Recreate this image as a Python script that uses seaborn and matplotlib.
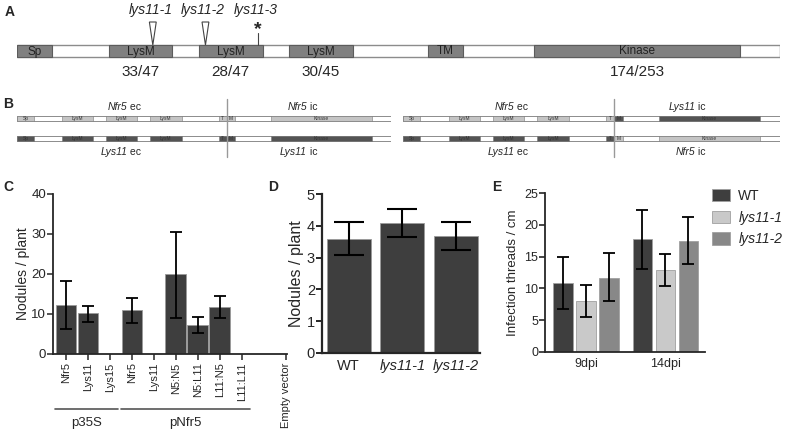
import pandas as pd
import matplotlib
matplotlib.use("Agg")
import matplotlib.pyplot as plt
from matplotlib.patches import Rectangle, Polygon
import seaborn as sns

# ---- panel A / B : domain architecture (positions in % of protein length)
domain_names = ["Sp", "LysM", "LysM", "LysM", "TM", "Kinase"]
domain_start = [0.0, 12.1, 23.8, 35.6, 53.9, 67.8]
domain_end = [4.6, 20.3, 32.2, 44.0, 58.4, 94.8]
domain_identity = ["", "33/47", "28/47", "30/45", "", "174/253"]
mutant_names = ["lys11-1", "lys11-2", "lys11-3"]
mutant_pos = [17.8, 24.7, 31.6]
mutant_kind = ["insertion", "insertion", "stop"]
split_pos = 56.1

# chimeras: (ectodomain, intracellular) for top and bottom rows
chimeras_left = [("Nfr5", "Nfr5"), ("Lys11", "Lys11")]
chimeras_right = [("Nfr5", "Lys11"), ("Lys11", "Nfr5")]

# ---- panel C
c_labels = ["Nfr5", "Lys11", "Lys15", "Nfr5", "Lys11", "N5:N5", "N5:L11",
            "L11:N5", "L11:L11", "", "Empty vector"]
c_promoter = ["p35S", "p35S", "p35S", "pNfr5", "pNfr5", "pNfr5", "pNfr5",
              "pNfr5", "pNfr5", "", ""]
c_mean = [12.3, 10.2, 0, 11.0, 0, 20.0, 7.3, 11.8, 0, None, 0]
c_low = [6.3, 8.1, 0, 7.8, 0, 9.0, 5.3, 9.0, 0, None, 0]
c_high = [18.2, 12.0, 0, 14.1, 0, 30.6, 9.2, 14.4, 0, None, 0]

# ---- panel D
d_geno = ["WT", "lys11-1", "lys11-2"]
d_mean = [3.6, 4.1, 3.67]
d_low = [3.08, 3.64, 3.25]
d_high = [4.13, 4.53, 4.11]

# ---- panel E
e_time = ["9dpi", "14dpi"]
e_geno = ["WT", "lys11-1", "lys11-2"]
e_mean = {"9dpi": [10.9, 8.0, 11.7], "14dpi": [17.7, 12.9, 17.5]}
e_low = {"9dpi": [6.7, 5.5, 8.0], "14dpi": [13.1, 10.3, 13.9]}
e_high = {"9dpi": [15.0, 10.5, 15.6], "14dpi": [22.4, 15.4, 21.2]}

dark = "#3e3e3e"
e_palette = {"WT": "#3e3e3e", "lys11-1": "#c9c9c9", "lys11-2": "#888888"}
gene_col = {"Nfr5": "#c4c4c4", "Lys11": "#545454"}

sns.set_theme(style="ticks")
plt.rcParams["font.family"] = ["Liberation Sans", "DejaVu Sans"]

W, H = 787, 434
fig = plt.figure(figsize=(W / 100, H / 100), dpi=100)


def px_axes(x0, y0, x1, y1):
    return fig.add_axes([x0 / W, 1 - y1 / H, (x1 - x0) / W, (y1 - y0) / H])


# ================= A
axA = px_axes(17, 0, 780, 90)
axA.set_xlim(0, 100)
axA.set_ylim(90, 0)
axA.axis("off")
top, hgt = 45, 12
axA.add_patch(Rectangle((0, top), 100, hgt, facecolor="white", edgecolor="#8c8c8c", lw=1))
for name, s, e, ident in zip(domain_names, domain_start, domain_end, domain_identity):
    axA.add_patch(Rectangle((s, top), e - s, hgt, facecolor="#808080", edgecolor="#5c5c5c", lw=0.8))
    axA.text((s + e) / 2, top + hgt / 2 + 0.5, name, ha="center", va="center", fontsize=8.5, color="#222222")
    if ident:
        axA.text((s + e) / 2, 72, ident, ha="center", va="center", fontsize=11)
for name, pos, kind in zip(mutant_names, mutant_pos, mutant_kind):
    if kind == "insertion":
        axA.add_patch(Polygon([(pos - 0.45, 22), (pos + 0.45, 22), (pos, top)], closed=True,
                              facecolor="white", edgecolor="#444444", lw=0.8))
    else:
        axA.plot([pos, pos], [33, top], color="#444444", lw=0.8)
        axA.text(pos, 30, "*", ha="center", va="center", fontsize=14, fontweight="bold")
    axA.text(pos - 0.3, 10, name, ha="center", va="center", fontsize=10, style="italic")


# ================= B
def gene_label(ax, x, y, gene, part):
    # italic gene name followed by upright "ec"/"ic"
    t = ax.text(x + 1.5, y, gene, ha="right", va="center", fontsize=7.5, style="italic")
    ax.annotate(" " + part, xy=(1, 0.5), xycoords=t, ha="left", va="center", fontsize=7.5)


def draw_chimeras(ax, rows):
    ax.set_xlim(0, 100)
    ax.set_ylim(160, 95)
    ax.axis("off")
    for (ec, ic), yc in zip(rows, [118, 138]):
        ax.add_patch(Rectangle((0, yc - 2.5), 100, 5, facecolor="white", edgecolor="#8c8c8c", lw=0.7))
        for name, s, e in zip(domain_names, domain_start, domain_end):
            if name == "TM":
                parts = [("T", s, split_pos, gene_col[ec]), ("M", split_pos, e, gene_col[ic])]
            elif name == "Kinase":
                parts = [(name, s, e, gene_col[ic])]
            else:
                parts = [(name, s, e, gene_col[ec])]
            for lab, a, b, col in parts:
                ax.add_patch(Rectangle((a, yc - 2.5), b - a, 5, facecolor=col, edgecolor="#777777", lw=0.4))
                ax.text((a + b) / 2, yc + 0.2, lab, ha="center", va="center", fontsize=3.5, color="#333333")
    ax.plot([split_pos, split_pos], [99, 157], color="#999999", lw=1)
    (ec1, ic1), (ec2, ic2) = rows
    gene_label(ax, 28, 107, ec1, "ec")
    gene_label(ax, 76, 107, ic1, "ic")
    gene_label(ax, 28, 152, ec2, "ec")
    gene_label(ax, 76, 152, ic2, "ic")


draw_chimeras(px_axes(17, 95, 391, 160), chimeras_left)
draw_chimeras(px_axes(403, 95, 780, 160), chimeras_right)

# ================= C
axC = px_axes(53, 194, 287, 354)
dfC = pd.DataFrame({"construct": [f"{p}_{l}_{i}" for i, (p, l) in enumerate(zip(c_promoter, c_labels))],
                    "nodules": c_mean})
sns.barplot(data=dfC, x="construct", y="nodules", color=dark, saturation=1, width=0.95,
            edgecolor="#9a9a9a", linewidth=0.6, errorbar=None, ax=axC)
for x, m, lo, hi in zip(range(len(c_labels)), c_mean, c_low, c_high):
    if m:
        axC.errorbar(x, m, yerr=[[m - lo], [hi - m]], color="black", lw=1.3, capsize=4.5, capthick=1.3)
tick_idx = [i for i, l in enumerate(c_labels) if l]
axC.set_xticks(tick_idx)
axC.set_xticklabels([c_labels[i] for i in tick_idx], rotation=90, fontsize=8)
axC.set_xlim(-0.59, 10.05)
axC.set_ylim(0, 40)
axC.set_yticks([0, 10, 20, 30, 40])
axC.tick_params(axis="y", labelsize=9.5, width=1.1, length=4, pad=1)
axC.tick_params(axis="x", width=1.1, length=4, pad=2)
axC.set_xlabel("")
axC.set_ylabel("Nodules / plant", fontsize=10, labelpad=1)
sns.despine(ax=axC)
for sp in ["left", "bottom"]:
    axC.spines[sp].set_linewidth(1.3)
for prom in ["p35S", "pNfr5"]:
    idx = [i for i, p in enumerate(c_promoter) if p == prom]
    x0, x1 = idx[0] - 0.5, idx[-1] + 0.35
    axC.plot([x0, x1], [-0.345, -0.345], color="#555555", lw=1.2,
             transform=axC.get_xaxis_transform(), clip_on=False)
    axC.text((x0 + x1) / 2, -0.43, prom, ha="center", va="center", fontsize=9.5,
             transform=axC.get_xaxis_transform())

# ================= D
axD = px_axes(322, 194, 480, 353)
dfD = pd.DataFrame({"genotype": d_geno, "nodules": d_mean})
sns.barplot(data=dfD, x="genotype", y="nodules", color=dark, saturation=1, width=0.82,
            edgecolor="#9a9a9a", linewidth=0.6, errorbar=None, ax=axD)
axD.errorbar(range(len(d_geno)), d_mean,
             yerr=[[m - lo for m, lo in zip(d_mean, d_low)], [hi - m for m, hi in zip(d_mean, d_high)]],
             fmt="none", ecolor="black", elinewidth=1.5, capsize=11, capthick=1.5)
axD.set_xlim(-0.5, 2.45)
axD.set_ylim(0, 5)
axD.tick_params(axis="y", labelsize=10.5, width=1.4, length=4, pad=1)
axD.tick_params(axis="x", labelsize=10.5, length=0, pad=4)
for lab in axD.get_xticklabels():
    if lab.get_text() != "WT":
        lab.set_style("italic")
axD.set_xlabel("")
axD.set_ylabel("Nodules / plant", fontsize=11.5, labelpad=2)
sns.despine(ax=axD)
for sp in ["left", "bottom"]:
    axD.spines[sp].set_linewidth(1.6)

# ================= E
axE = px_axes(545, 193, 705, 352)
dfE = pd.DataFrame([{"time": t, "genotype": g, "threads": e_mean[t][i]}
                    for t in e_time for i, g in enumerate(e_geno)])
sns.barplot(data=dfE, x="time", y="threads", hue="genotype", hue_order=e_geno, palette=e_palette,
            saturation=1, width=0.87, gap=0.15, edgecolor="#a0a0a0", linewidth=0.6,
            errorbar=None, ax=axE)
for g, cont in zip(e_geno, axE.containers):
    gi = e_geno.index(g)
    for t, bar in zip(e_time, cont):
        m, lo, hi = e_mean[t][gi], e_low[t][gi], e_high[t][gi]
        axE.errorbar(bar.get_x() + bar.get_width() / 2, m, yerr=[[m - lo], [hi - m]],
                     color="black", lw=1.3, capsize=4.5, capthick=1.3)
axE.set_xlim(-0.52, 1.5)
axE.set_ylim(0, 25)
axE.tick_params(axis="y", labelsize=9, width=1.2, length=4, pad=1)
axE.tick_params(axis="x", labelsize=9, length=0, pad=4)
axE.set_xlabel("")
axE.set_ylabel("Infection threads / cm", fontsize=9.5, labelpad=4)
sns.despine(ax=axE)
for sp in ["left", "bottom"]:
    axE.spines[sp].set_linewidth(1.3)
handles, labels = axE.get_legend_handles_labels()
leg = axE.legend(handles, labels, loc="upper left", bbox_to_anchor=(712 / W, 1 - 189 / H),
                 bbox_transform=fig.transFigure, frameon=False, fontsize=10,
                 borderpad=0, borderaxespad=0,
                 handlelength=1.3, handleheight=1.0, labelspacing=0.55, handletextpad=0.6)
for txt in leg.get_texts():
    if txt.get_text() != "WT":
        txt.set_style("italic")

# panel letters
for letter, x, y in [("A", 10, 12), ("B", 8, 104), ("C", 8, 187), ("D", 273, 187), ("E", 497, 187)]:
    fig.text(x / W, 1 - y / H, letter, fontsize=10, fontweight="bold", ha="center", va="center")

fig.savefig("out.png", dpi=100)
